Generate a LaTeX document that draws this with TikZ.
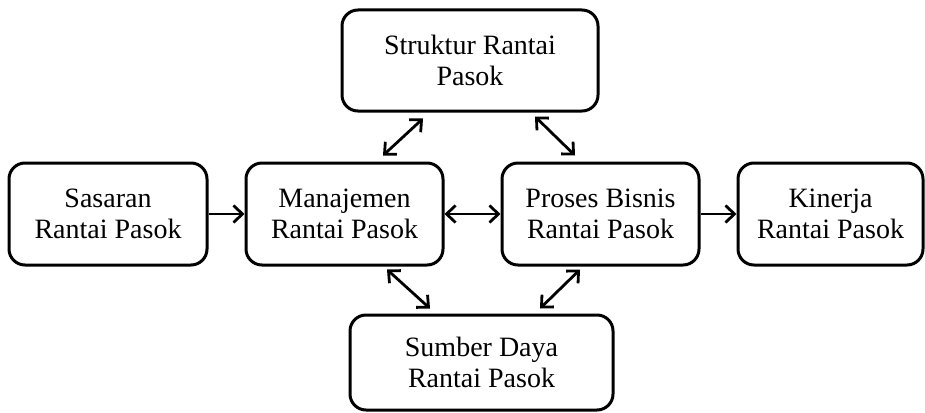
\documentclass[tikz,border=0pt]{standalone}
\usepackage{fontspec}
\setmainfont{Liberation Serif}
\usetikzlibrary{arrows.meta}

\begin{document}
\begin{tikzpicture}[x=1pt, y=-1pt,
    box/.style={draw, line width=3pt, rounded corners=16pt, align=center,
        inner sep=0pt, font=\fontsize{28}{31}\selectfont},
    arr/.style={line width=2.8pt, -{Straight Barb[length=9pt, width=17pt]}},
    dblarr/.style={line width=2.8pt, {Straight Barb[length=9pt, width=17pt]}-{Straight Barb[length=9pt, width=17pt]}}]

\useasboundingbox (0,0) rectangle (925,412);

% Boxes
\node[box, minimum width=198pt, minimum height=102pt] (sasaran) at (108,214) {Sasaran\\Rantai Pasok};
\node[box, minimum width=197pt, minimum height=102pt] (manajemen) at (344.5,214) {Manajemen\\Rantai Pasok};
\node[box, minimum width=197pt, minimum height=102pt] (proses) at (600.5,214) {Proses Bisnis\\Rantai Pasok};
\node[box, minimum width=185pt, minimum height=102pt] (kinerja) at (830.5,214) {Kinerja\\Rantai Pasok};
\node[box, minimum width=256pt, minimum height=101pt] (struktur) at (470,60.5) {Struktur Rantai\\Pasok};
\node[box, minimum width=263pt, minimum height=95pt] (sumber) at (481.5,362.5) {Sumber Daya\\Rantai Pasok};

% Arrows
\draw[arr] (sasaran) -- (manajemen);
\draw[dblarr] (manajemen) -- (proses);
\draw[arr] (proses) -- (kinerja);

\draw[dblarr] ([xshift=-47pt, yshift=-6pt]struktur.south) -- ([xshift=38.5pt, yshift=6pt]manajemen.north);
\draw[dblarr] ([xshift=65pt, yshift=-4pt]struktur.south) -- ([xshift=-25.5pt, yshift=6pt]proses.north);
\draw[dblarr] ([xshift=42.5pt, yshift=-3pt]manajemen.south) -- ([xshift=-51.5pt, yshift=5pt]sumber.north);
\draw[dblarr] ([xshift=-20.5pt, yshift=-3pt]proses.south) -- ([xshift=58.5pt, yshift=5pt]sumber.north);

\end{tikzpicture}
\end{document}
